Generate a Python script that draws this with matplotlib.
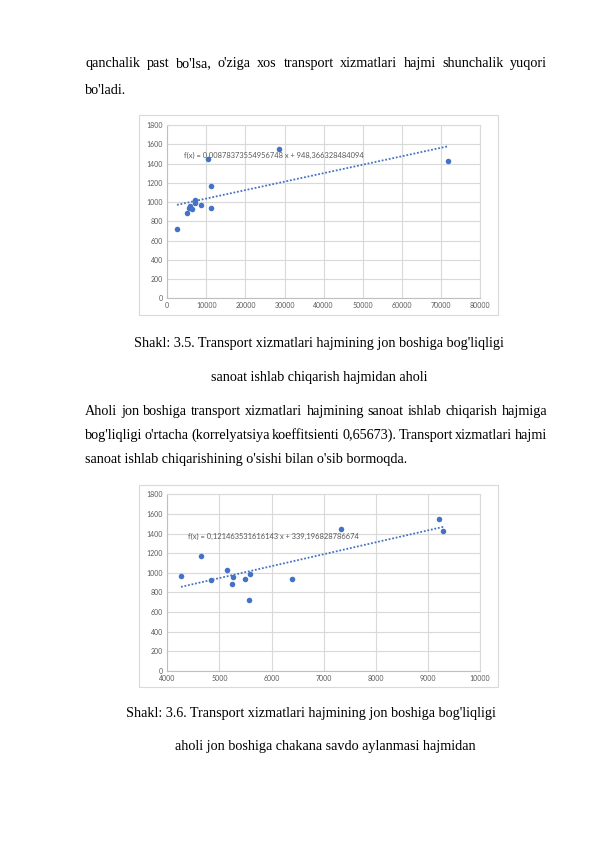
import matplotlib
matplotlib.use("Agg")
import numpy as np
import matplotlib.pyplot as plt
from matplotlib.patches import Rectangle

# transport services per capita (y) vs industry output / retail turnover per capita (x)
transport = [968, 1168, 930, 1026, 890, 958, 941, 723, 988, 937, 1447, 1552, 1423]
industry = [8540, 11180, 6240, 7090, 4960, 5800, 5550, 2480, 7090, 11100, 10490, 28500, 71900]
retail = [4262, 4652, 4832, 5145, 5235, 5260, 5497, 5561, 5580, 6393, 7327, 9207, 9297]

# trendline coefficients shown on the charts
slope1, icpt1 = 0.00878373554956748, 948.366328484094
slope2, icpt2 = 0.121463531616143, 339.196828786674

x1_ticks = list(range(0, 80001, 10000))
x2_ticks = list(range(4000, 10001, 1000))
y_ticks = list(range(0, 1801, 200))

W, H = 595, 842
fig = plt.figure(figsize=(W / 100, H / 100), dpi=100)
renderer = fig.canvas.get_renderer()

BODY = dict(family="Liberation Serif", size=10.2, color="black")
BLUE = "#4472C4"
GRID = "#d9d9d9"
LABEL = "#595959"


def fy(py):
    return 1 - py / H


def justify(words, py, x0=85, x1=547):
    txts = [fig.text(0, fy(py), w, va="baseline", ha="left", **BODY) for w in words]
    widths = [t.get_window_extent(renderer).width for t in txts]
    gap = (x1 - x0 - sum(widths)) / (len(words) - 1)
    x = x0
    for t, w in zip(txts, widths):
        t.set_x(x / W)
        x += w + gap


def left(text, py, x0=85):
    fig.text(x0 / W, fy(py), text, va="baseline", ha="left", **BODY)


def center(text, py, cx):
    fig.text(cx / W, fy(py), text, va="baseline", ha="center", **BODY)


def scatter_chart(rect, frame, xs, xticks, slope, icpt, eq_pos):
    fig.add_artist(Rectangle((frame[0] / W, fy(frame[3])), (frame[2] - frame[0]) / W,
                             (frame[3] - frame[1]) / H, transform=fig.transFigure,
                             fill=False, edgecolor=GRID, lw=0.8))
    ax = fig.add_axes([rect[0] / W, fy(rect[3]), (rect[2] - rect[0]) / W, (rect[3] - rect[1]) / H])
    ax.scatter(xs, transport, s=16, color=BLUE, zorder=3, linewidths=0)
    tx = np.array([min(xs), max(xs)])
    ax.plot(tx, slope * tx + icpt, color=BLUE, lw=1.3, linestyle=(0, (1, 1)), zorder=2)
    eq = "f(x) = " + repr(slope).replace(".", ",") + " x + " + repr(icpt).replace(".", ",")
    ax.text(eq_pos[0], eq_pos[1], eq, fontsize=5.4, family="Lato", color=LABEL, va="center")
    ax.set_xlim(xticks[0], xticks[-1])
    ax.set_ylim(0, 1800)
    ax.set_xticks(xticks)
    ax.set_yticks(y_ticks)
    ax.grid(True, color=GRID, lw=0.8)
    ax.set_axisbelow(True)
    for s in ax.spines.values():
        s.set_color(GRID)
        s.set_linewidth(0.8)
    ax.spines["left"].set_color("#bfbfbf")
    ax.spines["bottom"].set_color("#bfbfbf")
    ax.tick_params(length=0, labelsize=5, labelcolor=LABEL, pad=3)
    for lbl in ax.get_xticklabels() + ax.get_yticklabels():
        lbl.set_family("Lato")
    return ax


# top paragraph
justify("qanchalik past bo'lsa, o'ziga xos transport xizmatlari hajmi shunchalik yuqori".split(), 67)
left("bo'ladi.", 94)

scatter_chart((167.3, 125, 480, 298.3), (138.5, 115, 498, 315), industry, x1_ticks,
              slope1, icpt1, (4270, 1480))

center("Shakl: 3.5. Transport xizmatlari hajmining jon boshiga bog'liqligi", 347, 318.5)
center("sanoat ishlab chiqarish hajmidan aholi", 381, 319)

justify("Aholi jon boshiga transport xizmatlari hajmining sanoat ishlab chiqarish hajmiga".split(), 415)
justify("bog'liqligi o'rtacha (korrelyatsiya koeffitsienti 0,65673). Transport xizmatlari hajmi".split(), 439)
left("sanoat ishlab chiqarishining o'sishi bilan o'sib bormoqda.", 463)

scatter_chart((167.3, 494.3, 480, 671), (138.5, 485, 498, 687), retail, x2_ticks,
              slope2, icpt2, (4400, 1370))

center("Shakl: 3.6. Transport xizmatlari hajmining jon boshiga bog'liqligi", 717, 311)
center("aholi jon boshiga chakana savdo aylanmasi hajmidan", 750, 325)

fig.savefig("out.png", dpi=100)
